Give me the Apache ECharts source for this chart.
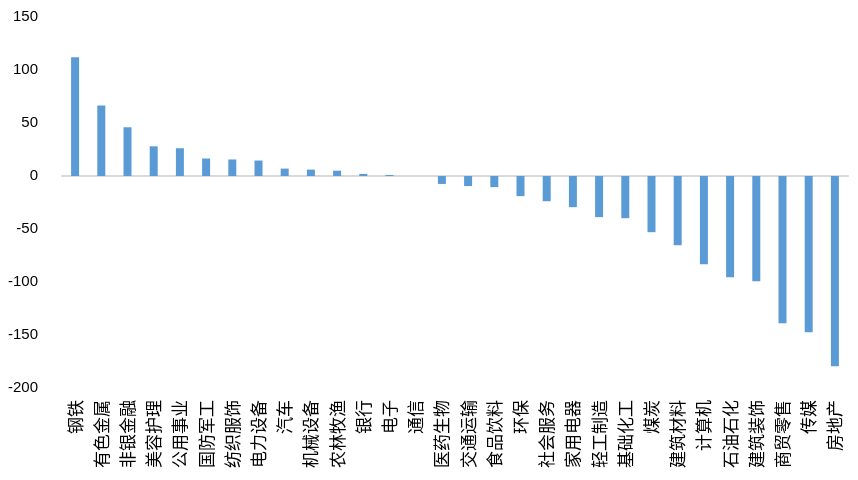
<!DOCTYPE html>
<html><head><meta charset="utf-8">
<script src="https://cdn.jsdelivr.net/npm/echarts@6/dist/echarts.min.js"></script>
<style>html,body{margin:0;padding:0;background:#fff}#c{width:858px;height:480px}</style>
</head><body><div id="c"></div>
<script>
const categories = ['钢铁','有色金属','非银金融','美容护理','公用事业','国防军工','纺织服饰','电力设备','汽车','机械设备','农林牧渔','银行','电子','通信','医药生物','交通运输','食品饮料','环保','社会服务','家用电器','轻工制造','基础化工','煤炭','建筑材料','计算机','石油石化','建筑装饰','商贸零售','传媒','房地产'];
const values = [112, 66.5, 46, 28, 26.2, 16.5, 15.6, 14.6, 7, 6, 5, 2, 1, 0, -7.5, -9.5, -10.5, -19, -23.8, -29.4, -38.8, -39.8, -53, -65.3, -83.2, -95.5, -99.2, -138.9, -147.4, -179.4];
const yMin = -200, yMax = 150, yStep = 50;

const chart = echarts.init(document.getElementById('c'));
chart.setOption({
  animation: false,
  grid: {left: 62, right: 10, top: 17, bottom: 92, containLabel: false},
  xAxis: [{
    type: 'category', data: categories, position: 'bottom',
    axisLine: {show: false, onZero: false}, axisTick: {show: false},
    axisLabel: {interval: 0, rotate: 90, margin: 12, fontSize: 17, color: '#000', fontFamily: 'Noto Sans CJK SC'}
  }, {
    type: 'category', data: categories, position: 'bottom',
    axisLine: {show: true, onZero: true, lineStyle: {color: '#d9d9d9', width: 2}},
    axisTick: {show: false}, axisLabel: {show: false}
  }],
  yAxis: {
    type: 'value', min: yMin, max: yMax, interval: yStep,
    axisLine: {show: false}, axisTick: {show: false}, splitLine: {show: false},
    axisLabel: {fontSize: 15, color: '#000', margin: 24, fontFamily: 'Liberation Sans'}
  },
  series: [{
    type: 'bar', data: values, barWidth: 8, xAxisIndex: 0,
    itemStyle: {color: '#5b9bd5'}
  }]
});
</script></body></html>
